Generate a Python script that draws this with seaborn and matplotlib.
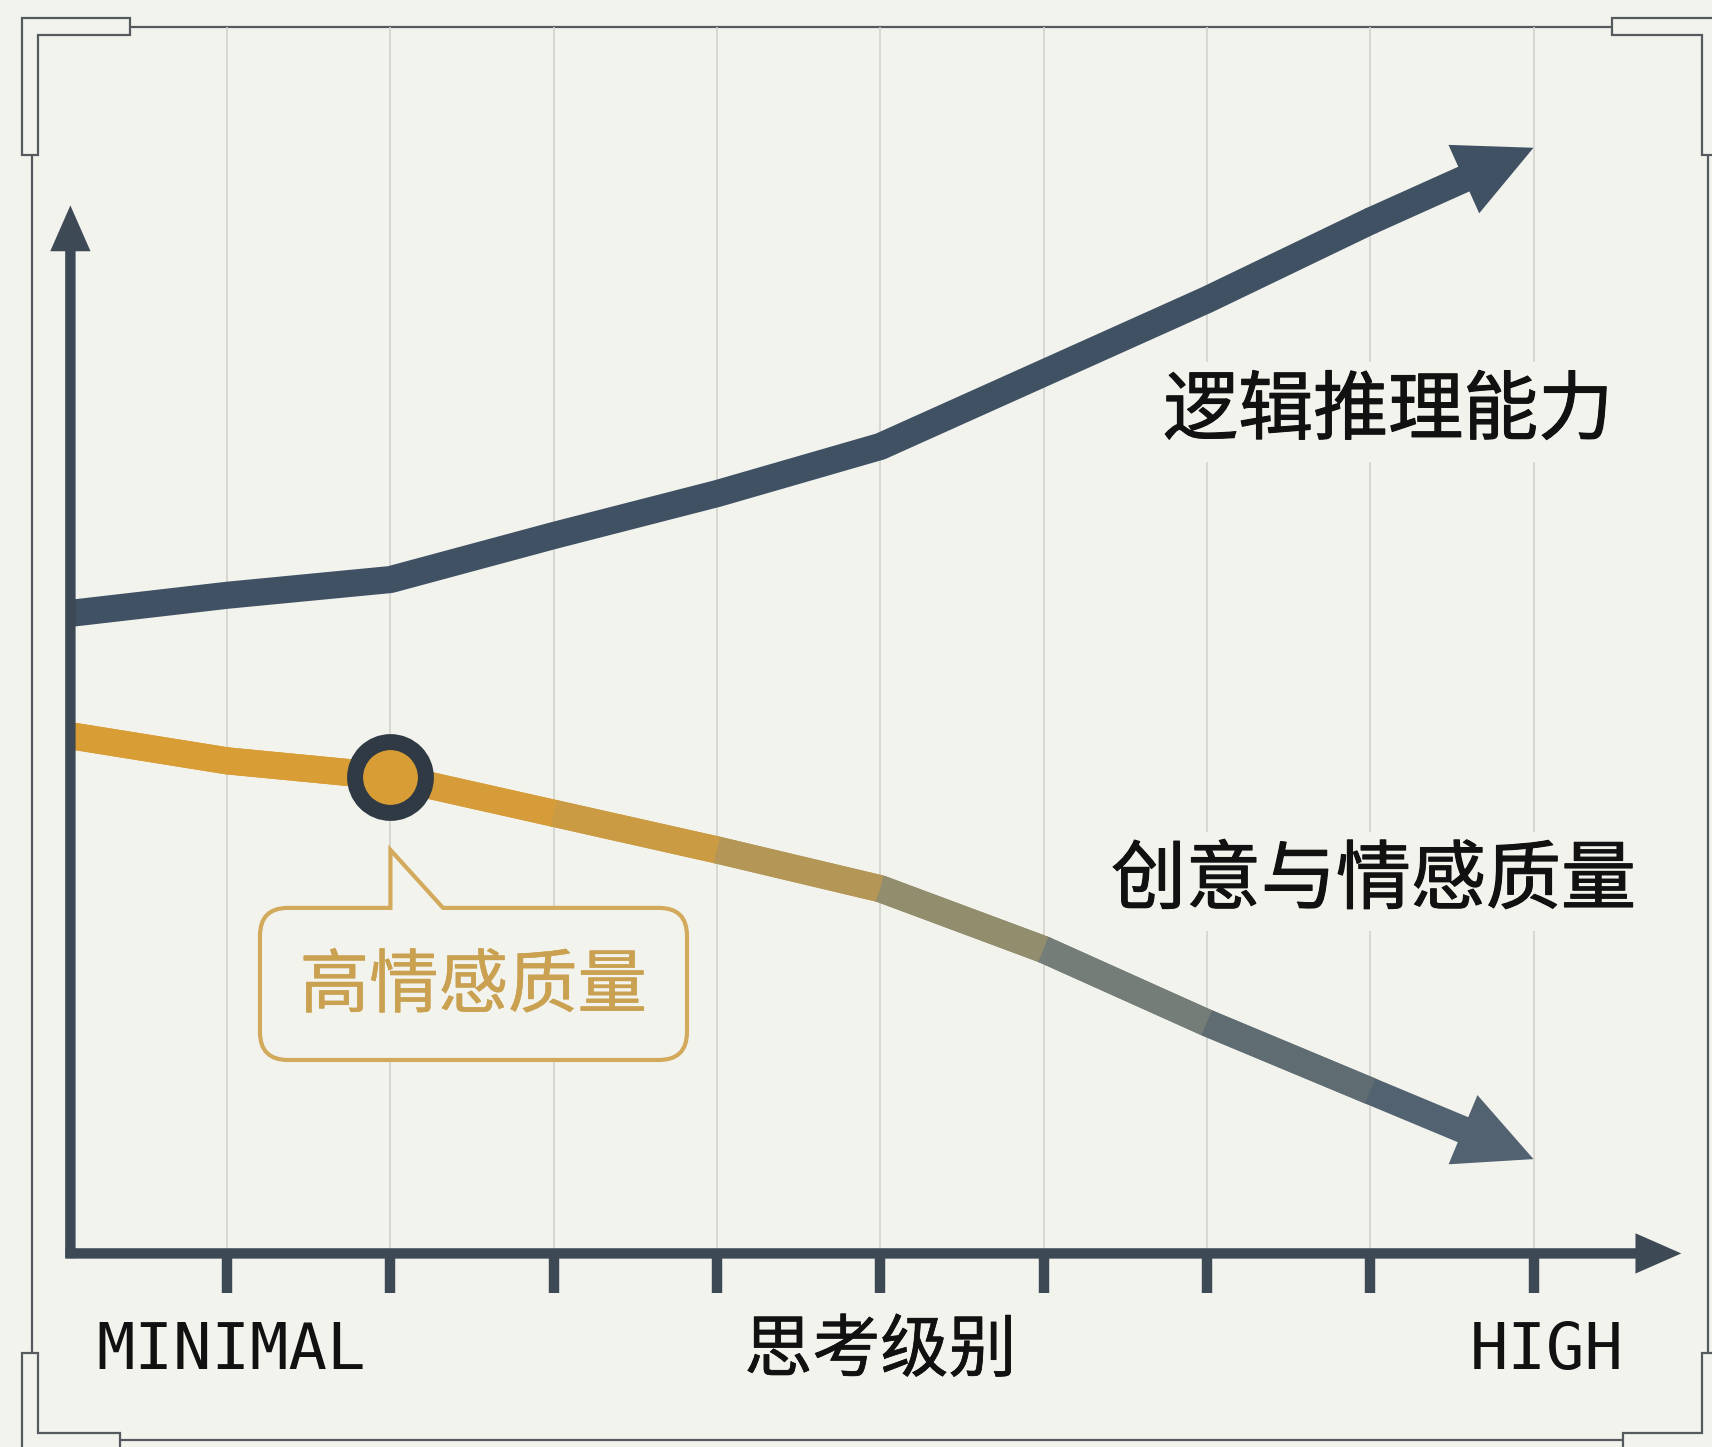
import numpy as np
import pandas as pd
import matplotlib.pyplot as plt
import matplotlib.patheffects as pe
import seaborn as sns
from matplotlib.path import Path
from matplotlib.patches import PathPatch, Polygon, Rectangle

# Data: thinking level steps (0 = minimal ... 9 = high)
levels = list(range(10))
tick_levels = list(range(1, 10))
logic_scores = [6.1, 6.28, 6.43, 6.85, 7.25, 7.7, 8.4, 9.1, 9.85, 10.55]
emotion_scores = [4.95, 4.7, 4.55, 4.2, 3.85, 3.48, 2.9, 2.2, 1.55, 0.9]
highlight_idx = 2
x_labels = ["MINIMAL", "HIGH"]
x_title = "思考级别"
logic_label = "逻辑推理能力"
emotion_label = "创意与情感质量"
callout_text = "高情感质量"

# Style
BG = "#F3F3EE"
AX = "#3D4A56"
BLUE = "#3F5163"
GOLD = "#D99D35"
RING = "#2F3A44"
FRAME = "#555A5E"
GRID = "#D2D3CD"
BOX = "#D3A95C"
BOX_TXT = "#C9A150"
INK = "#111111"
LW = 19.5
seg_colors = ["#D99D35", "#D99D35", "#D69C39", "#CB9B43", "#B49657",
              "#928D6D", "#747D77", "#5F6D72", "#536270"]

W, H = 1712, 1447
sns.set_theme(style="white")
plt.rcParams["font.family"] = ["Noto Sans CJK SC", "DejaVu Sans"]

fig = plt.figure(figsize=(W / 100, H / 100), dpi=100)
fig.patch.set_facecolor(BG)
ax = fig.add_axes([0, 0, 1, 1])
ax.set_facecolor(BG)


def px(X, Y):
    # figure pixel (from top-left) -> axes fraction
    return X / W, 1 - Y / H


# ---- decorative frame ----
fx = [px(32, 27), px(1708, 27), px(1708, 1440), px(32, 1440)]
ax.add_patch(Polygon(fx, closed=True, fill=False, ec=FRAME, lw=1.6,
                     transform=ax.transAxes, zorder=0))
brackets = [
    [(22, 18), (130, 18), (130, 35), (38, 35), (38, 155), (22, 155)],
    [(1718, 18), (1612, 18), (1612, 35), (1702, 35), (1702, 155), (1718, 155)],
    [(22, 1452), (120, 1452), (120, 1433), (38, 1433), (38, 1353), (22, 1353)],
    [(1718, 1452), (1623, 1452), (1623, 1433), (1702, 1433), (1702, 1353), (1718, 1353)],
]
for br in brackets:
    ax.add_patch(Polygon([px(a, b) for a, b in br], closed=True, fc=BG,
                         ec=FRAME, lw=1.6, transform=ax.transAxes, zorder=1))

# ---- grid + ticks ----
ax.vlines(tick_levels, 0, 11.70, color=GRID, lw=1.2, zorder=0)
ax.vlines(tick_levels, -0.38, 0, color=AX, lw=7.5, zorder=4)

# ---- axes with arrows ----
axis_arrow = "simple,head_length=33,head_width=29,tail_width=7.5"
ax.annotate("", xy=(0.04, 10.0), xytext=(0.04, -0.045),
            arrowprops=dict(arrowstyle=axis_arrow, mutation_scale=1, lw=0,
                            color=AX, shrinkA=0, shrinkB=0), zorder=4)
ax.annotate("", xy=(9.905, 0), xytext=(0.01, 0),
            arrowprops=dict(arrowstyle=axis_arrow, mutation_scale=1, lw=0,
                            color=AX, shrinkA=0, shrinkB=0), zorder=4)

line_arrow = f"simple,head_length=55,head_width=54,tail_width={LW}"

# ---- logic line ----
sns.lineplot(x=levels[:-1], y=logic_scores[:-1], color=BLUE, lw=LW,
             sort=False, ax=ax, zorder=3)
for ln in ax.lines:
    ln.set_solid_capstyle("round")
    ln.set_solid_joinstyle("round")
ax.annotate("", xy=(levels[-1], logic_scores[-1]), xytext=(levels[-2], logic_scores[-2]),
            arrowprops=dict(arrowstyle=line_arrow, mutation_scale=1, lw=0,
                            color=BLUE, shrinkA=0, shrinkB=0), zorder=3)

# ---- emotion line, segment-wise gradient ----
rows = []
for i in range(len(levels) - 2):
    rows.append({"x": levels[i], "y": emotion_scores[i], "seg": i})
    rows.append({"x": levels[i + 1], "y": emotion_scores[i + 1], "seg": i})
seg_df = pd.DataFrame(rows)
pal = seg_colors[:len(levels) - 2]

# round-capped underlay fills the joints, butt-capped overlay avoids dots
n0 = len(ax.lines)
sns.lineplot(data=seg_df, x="x", y="y", hue="seg", palette=pal,
             lw=LW, sort=False, legend=False, ax=ax, zorder=2.9)
for ln in ax.lines[n0:]:
    ln.set_solid_capstyle("round")
n1 = len(ax.lines)
sns.lineplot(data=seg_df, x="x", y="y", hue="seg", palette=pal,
             lw=LW, sort=False, legend=False, ax=ax, zorder=3)
for ln in ax.lines[n1:]:
    ln.set_solid_capstyle("butt")

ax.annotate("", xy=(levels[-1], emotion_scores[-1]), xytext=(levels[-2], emotion_scores[-2]),
            arrowprops=dict(arrowstyle=line_arrow, mutation_scale=1, lw=0,
                            color=seg_colors[-1], shrinkA=0, shrinkB=0), zorder=3)

clip = Rectangle((0.04, -5), 20, 30, transform=ax.transData)
for ln in ax.lines:
    ln.set_clip_path(clip)

# ---- highlighted point ----
sns.scatterplot(x=[levels[highlight_idx]], y=[emotion_scores[highlight_idx]], s=2600,
                color=GOLD, edgecolor=RING, linewidth=11.5, legend=False, ax=ax, zorder=5)

# ---- callout ----
L, R, T, B = 1.201, 3.816, 3.297, 1.846
rx, ry = 28 / 163.3, 28 / 104.8
tlx, trx, tt = levels[highlight_idx], 2.322, 3.85
verts = [(L + rx, T), (tlx, T), (tlx, tt), (trx, T), (R - rx, T),
         (R, T), (R, T - ry), (R, B + ry), (R, B), (R - rx, B), (L + rx, B),
         (L, B), (L, B + ry), (L, T - ry), (L, T), (L + rx, T), (L + rx, T)]
codes = [Path.MOVETO, Path.LINETO, Path.LINETO, Path.LINETO, Path.LINETO,
         Path.CURVE3, Path.CURVE3, Path.LINETO, Path.CURVE3, Path.CURVE3, Path.LINETO,
         Path.CURVE3, Path.CURVE3, Path.LINETO, Path.CURVE3, Path.CURVE3, Path.CLOSEPOLY]
ax.add_patch(PathPatch(Path(verts, codes), fc=BG, ec=BOX, lw=3, zorder=2))
ax.text((L + R) / 2, (T + B) / 2 - 0.03, callout_text, ha="center", va="center",
        fontsize=50, color=BOX_TXT, zorder=6,
        path_effects=[pe.withStroke(linewidth=0.4, foreground=BOX_TXT)])

# ---- labels ----
heavy = [pe.withStroke(linewidth=0.8, foreground=INK)]
lbl_box = dict(boxstyle="square,pad=0.15", fc=BG, ec="none")
ax.text(8.11, 8.03, logic_label, ha="center", va="center", fontsize=54,
        color=INK, bbox=lbl_box, zorder=6, path_effects=heavy)
ax.text(8.02, 3.55, emotion_label, ha="center", va="center", fontsize=54,
        color=INK, bbox=lbl_box, zorder=6, path_effects=heavy)
ax.text(5.0, -0.94, x_title, ha="center", va="center", fontsize=49,
        color=INK, zorder=6, path_effects=[pe.withStroke(linewidth=0.5, foreground=INK)])
ax.text(0.197, -0.93, x_labels[0], ha="left", va="center", fontsize=46,
        family="DejaVu Sans Mono", color=INK, zorder=6)
ax.text(9.08, -0.93, x_labels[1], ha="center", va="center", fontsize=46,
        family="DejaVu Sans Mono", color=INK, zorder=6)

ax.set_xlim(-0.391, 10.093)
ax.set_ylim(-1.847, 11.96)
ax.axis("off")

fig.savefig("out.png", dpi=100, facecolor=BG)
